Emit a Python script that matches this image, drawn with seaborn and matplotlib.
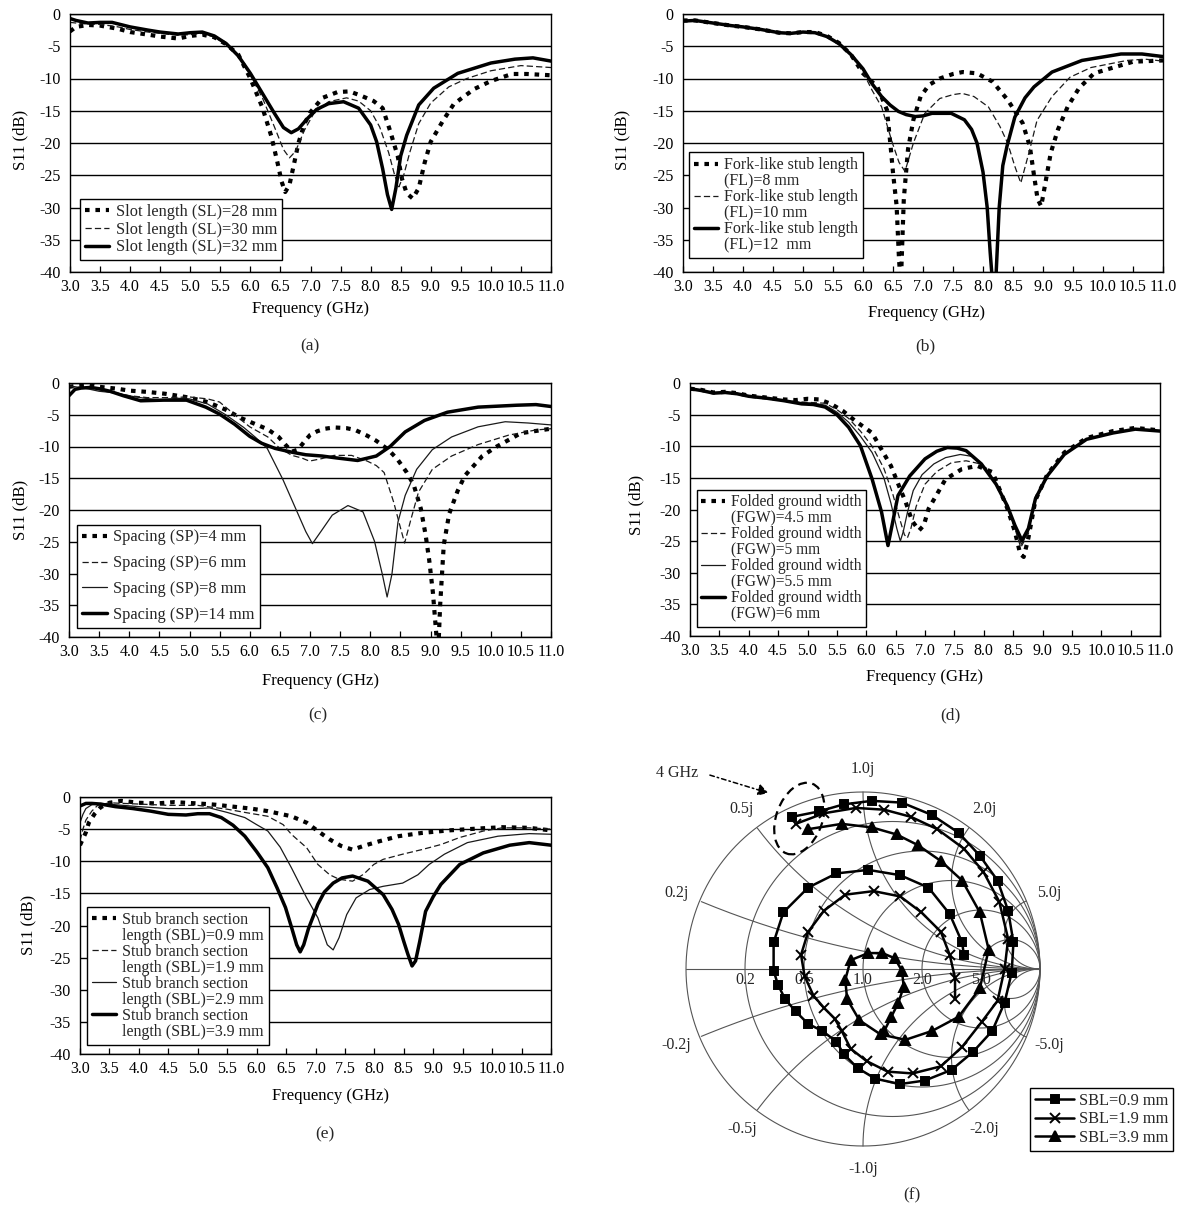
import numpy as np
import matplotlib
matplotlib.use("Agg")
import matplotlib.pyplot as plt
from matplotlib.lines import Line2D
from matplotlib.patches import Ellipse, FancyArrowPatch
import seaborn as sns

# ---------------------------------------------------------------- data
# (a) slot length
A_SL28_F = [3.0, 3.1, 3.3, 3.5, 3.8, 4.0, 4.3, 4.5, 4.8, 5.0, 5.2, 5.4, 5.6, 5.8, 6.0, 6.2, 6.35, 6.45, 6.52, 6.58, 6.65, 6.72, 6.8, 6.9, 7.0, 7.2, 7.45, 7.65, 7.85, 8.05, 8.2, 8.32, 8.45, 8.52, 8.6, 8.7, 8.8, 8.9, 9.0, 9.2, 9.38, 9.55, 9.73, 10.0, 10.35, 10.6, 11.0]
A_SL28_S = [-2.7, -2.0, -1.7, -1.8, -2.3, -2.8, -3.2, -3.5, -3.8, -3.4, -3.2, -3.6, -4.7, -6.3, -10.0, -14.5, -19.0, -23.0, -26.0, -27.6, -26.5, -23.5, -20.0, -17.0, -15.2, -13.0, -12.1, -12.0, -12.7, -13.5, -14.6, -18.0, -22.0, -25.5, -27.8, -28.6, -27.0, -23.0, -19.8, -16.6, -14.0, -12.8, -11.6, -10.4, -9.3, -9.3, -9.5]
A_SL30_F = [3.0, 3.2, 3.5, 3.8, 4.0, 4.3, 4.5, 4.8, 5.0, 5.2, 5.4, 5.6, 5.8, 6.0, 6.2, 6.4, 6.55, 6.65, 6.75, 6.9, 7.05, 7.3, 7.6, 7.8, 8.0, 8.15, 8.3, 8.4, 8.47, 8.55, 8.65, 8.8, 9.0, 9.3, 9.6, 10.0, 10.5, 11.0]
A_SL30_S = [-1.3, -1.5, -1.6, -2.0, -2.4, -2.8, -3.0, -3.3, -3.2, -3.0, -3.6, -4.7, -6.6, -9.5, -13.0, -17.5, -21.0, -22.3, -21.3, -18.0, -15.5, -13.6, -13.0, -13.5, -15.0, -17.5, -21.5, -25.0, -26.8, -25.0, -21.5, -17.0, -13.8, -11.3, -10.0, -8.8, -8.0, -8.3]
A_SL32_F = [3.0, 3.1, 3.3, 3.5, 3.7, 4.0, 4.3, 4.5, 4.8, 5.0, 5.2, 5.4, 5.6, 5.8, 6.0, 6.2, 6.4, 6.55, 6.68, 6.8, 6.95, 7.1, 7.3, 7.55, 7.8, 8.0, 8.1, 8.2, 8.28, 8.35, 8.42, 8.5, 8.6, 8.8, 9.05, 9.45, 10.0, 10.4, 10.7, 11.0]
A_SL32_S = [-0.7, -1.0, -1.4, -1.3, -1.3, -2.0, -2.5, -2.8, -3.1, -2.9, -2.8, -3.4, -4.6, -6.5, -9.2, -12.3, -15.4, -17.6, -18.4, -17.8, -16.2, -14.8, -13.9, -13.6, -14.6, -17.2, -19.8, -24.0, -28.0, -30.3, -27.0, -22.0, -18.8, -14.1, -11.5, -9.2, -7.6, -7.0, -6.8, -7.3]

# (b) fork-like stub length
B_FL8_F = [3.0, 3.2, 3.5, 3.8, 4.0, 4.3, 4.6, 4.8, 5.0, 5.2, 5.4, 5.6, 5.8, 6.0, 6.24, 6.4, 6.46, 6.5, 6.56, 6.6, 6.63, 6.68, 6.75, 6.84, 6.96, 7.1, 7.28, 7.5, 7.66, 7.9, 8.16, 8.41, 8.66, 8.78, 8.85, 8.91, 8.97, 9.03, 9.13, 9.25, 9.41, 9.6, 9.85, 10.1, 10.5, 11.0]
B_FL8_S = [-1.0, -1.0, -1.4, -1.8, -2.0, -2.4, -2.9, -3.0, -2.8, -2.8, -3.4, -4.5, -6.3, -9.2, -11.3, -14.9, -20.5, -24.6, -29.7, -38.0, -42.0, -28.7, -21.0, -16.4, -12.8, -11.0, -10.0, -9.3, -9.0, -9.2, -10.5, -13.3, -16.9, -20.5, -25.0, -28.7, -29.8, -26.7, -21.5, -17.9, -14.4, -11.5, -9.2, -8.5, -7.4, -7.2]
B_FL10_F = [3.0, 3.2, 3.5, 3.8, 4.0, 4.3, 4.6, 4.8, 5.0, 5.2, 5.4, 5.6, 5.8, 6.0, 6.15, 6.31, 6.49, 6.6, 6.7, 6.84, 7.03, 7.28, 7.5, 7.65, 7.85, 8.09, 8.28, 8.41, 8.53, 8.63, 8.78, 8.9, 9.15, 9.45, 9.8, 10.4, 10.7, 11.0]
B_FL10_S = [-1.1, -1.0, -1.4, -1.8, -2.0, -2.4, -2.9, -3.0, -2.8, -2.9, -3.5, -4.6, -6.3, -9.0, -11.8, -14.4, -20.0, -23.0, -24.4, -20.0, -15.4, -13.1, -12.5, -12.3, -12.8, -14.4, -17.4, -20.0, -23.6, -26.2, -21.0, -16.5, -12.8, -9.8, -8.3, -7.2, -7.0, -7.3]
B_FL12_F = [3.0, 3.2, 3.5, 3.8, 4.0, 4.3, 4.6, 4.8, 5.0, 5.2, 5.4, 5.6, 5.8, 6.0, 6.15, 6.31, 6.45, 6.59, 6.72, 6.87, 7.0, 7.15, 7.47, 7.69, 7.81, 7.9, 8.0, 8.07, 8.12, 8.17, 8.22, 8.27, 8.33, 8.4, 8.53, 8.7, 8.85, 9.15, 9.65, 10.3, 10.65, 11.0]
B_FL12_S = [-1.1, -1.0, -1.4, -1.8, -2.0, -2.4, -2.9, -3.0, -2.8, -2.9, -3.5, -4.6, -6.3, -8.5, -10.8, -12.8, -14.1, -15.1, -15.6, -15.9, -15.8, -15.4, -15.4, -16.4, -17.9, -20.0, -24.5, -30.0, -37.0, -43.0, -40.0, -30.0, -23.5, -20.5, -16.0, -13.0, -11.3, -9.0, -7.2, -6.2, -6.2, -6.6]

# (c) spacing
C_SP4_F = [3.0, 3.15, 3.3, 3.5, 3.8, 4.0, 4.3, 4.6, 5.0, 5.3, 5.6, 5.85, 6.1, 6.3, 6.48, 6.6, 6.7, 6.8, 6.9, 7.0, 7.12, 7.25, 7.4, 7.6, 7.75, 7.95, 8.1, 8.3, 8.45, 8.6, 8.72, 8.84, 8.92, 8.98, 9.04, 9.1, 9.13, 9.16, 9.22, 9.31, 9.45, 9.57, 9.86, 10.1, 10.5, 11.0]
C_SP4_S = [-0.6, -0.4, -0.3, -0.6, -0.9, -1.2, -1.4, -1.7, -2.3, -3.0, -4.2, -5.5, -6.5, -7.3, -8.5, -9.8, -10.8, -10.5, -9.3, -8.2, -7.6, -7.2, -7.0, -7.1, -7.4, -8.3, -9.1, -10.5, -12.0, -14.0, -16.0, -19.8, -24.0, -28.0, -33.0, -40.0, -42.0, -35.0, -25.5, -20.6, -17.0, -14.6, -11.5, -10.0, -7.9, -7.2]
C_SP6_F = [3.0, 3.3, 3.6, 4.0, 4.3, 4.6, 5.0, 5.3, 5.5, 5.8, 6.0, 6.3, 6.5, 6.7, 6.86, 6.99, 7.2, 7.4, 7.69, 7.95, 8.1, 8.23, 8.39, 8.49, 8.57, 8.68, 8.8, 9.03, 9.35, 9.79, 10.3, 10.75, 11.0]
C_SP6_S = [-0.5, -0.8, -1.2, -2.0, -2.3, -2.3, -2.2, -2.5, -3.0, -5.4, -6.9, -8.5, -10.3, -11.4, -11.8, -12.3, -11.9, -11.4, -11.4, -12.3, -13.0, -14.1, -18.8, -22.4, -25.2, -21.3, -17.2, -13.6, -11.5, -9.7, -8.2, -7.4, -7.2]
C_SP8_F = [3.0, 3.2, 3.5, 3.8, 4.1, 4.5, 4.8, 5.0, 5.3, 5.6, 5.9, 6.1, 6.29, 6.55, 6.74, 6.93, 7.04, 7.18, 7.37, 7.63, 7.88, 8.07, 8.2, 8.28, 8.36, 8.46, 8.58, 8.77, 9.03, 9.35, 9.79, 10.24, 10.62, 11.0]
C_SP8_S = [-0.5, -0.7, -1.3, -1.6, -2.2, -2.7, -2.4, -2.5, -3.3, -5.0, -7.0, -8.6, -10.3, -15.2, -19.3, -23.4, -25.3, -23.4, -20.8, -19.3, -20.3, -24.9, -30.1, -33.7, -30.1, -21.9, -17.7, -13.6, -10.5, -8.5, -6.9, -6.1, -6.3, -6.6]
C_SP14_F = [3.0, 3.1, 3.2, 3.36, 3.5, 3.68, 3.9, 4.19, 4.57, 4.95, 5.27, 5.5, 5.75, 6.0, 6.2, 6.42, 6.7, 6.93, 7.2, 7.44, 7.79, 8.1, 8.33, 8.58, 8.9, 9.28, 9.79, 10.43, 10.75, 11.0]
C_SP14_S = [-2.0, -1.0, -0.8, -0.7, -0.9, -1.3, -2.0, -2.8, -2.7, -2.7, -3.8, -4.9, -6.5, -8.4, -9.5, -10.3, -10.9, -11.3, -11.5, -11.8, -12.2, -11.5, -10.0, -7.7, -5.9, -4.6, -3.8, -3.5, -3.4, -3.7]

# (d) folded ground width
D_FGW45_F = [3.0, 3.2, 3.4, 3.6, 3.8, 4.0, 4.3, 4.6, 4.8, 5.0, 5.2, 5.4, 5.6, 5.8, 6.1, 6.29, 6.42, 6.58, 6.67, 6.78, 6.9, 6.98, 7.06, 7.19, 7.35, 7.63, 7.89, 8.15, 8.4, 8.53, 8.62, 8.68, 8.76, 8.88, 9.08, 9.37, 9.75, 10.2, 10.58, 11.0]
D_FGW45_S = [-0.9, -1.1, -1.5, -1.4, -1.6, -2.0, -2.3, -2.6, -2.7, -2.5, -2.6, -3.3, -4.4, -5.9, -7.9, -11.0, -13.1, -16.8, -18.8, -21.8, -23.3, -22.5, -19.9, -17.8, -15.2, -13.6, -13.1, -14.1, -19.8, -23.5, -27.0, -27.5, -24.5, -18.5, -14.5, -11.0, -8.7, -7.6, -7.1, -7.5]
D_FGW5_F = [3.0, 3.2, 3.4, 3.6, 3.8, 4.0, 4.3, 4.6, 4.9, 5.1, 5.3, 5.5, 5.7, 5.9, 6.1, 6.3, 6.45, 6.57, 6.65, 6.7, 6.76, 6.85, 7.0, 7.2, 7.45, 7.7, 7.9, 8.05, 8.21, 8.4, 8.53, 8.63, 8.76, 8.88, 9.08, 9.37, 9.75, 10.2, 10.58, 11.0]
D_FGW5_S = [-0.9, -1.2, -1.6, -1.5, -1.7, -2.1, -2.4, -2.8, -3.0, -3.1, -3.2, -4.2, -5.6, -7.6, -10.0, -13.5, -17.5, -21.5, -24.0, -24.5, -23.0, -19.5, -16.0, -14.0, -12.6, -12.3, -12.7, -13.5, -16.0, -19.8, -23.0, -26.0, -23.8, -18.5, -14.8, -11.3, -8.9, -7.8, -7.3, -7.6]
D_FGW55_F = [3.0, 3.2, 3.4, 3.6, 3.8, 4.0, 4.3, 4.6, 4.9, 5.1, 5.3, 5.5, 5.7, 5.9, 6.1, 6.3, 6.42, 6.52, 6.58, 6.63, 6.7, 6.8, 6.95, 7.15, 7.35, 7.6, 7.8, 7.96, 8.21, 8.4, 8.53, 8.64, 8.76, 8.88, 9.08, 9.37, 9.75, 10.2, 10.58, 11.0]
D_FGW55_S = [-0.9, -1.2, -1.6, -1.5, -1.7, -2.1, -2.4, -2.8, -3.1, -3.2, -3.5, -4.6, -6.2, -8.4, -11.0, -15.0, -19.0, -23.0, -25.0, -23.5, -20.5, -17.0, -14.5, -12.8, -11.8, -11.3, -11.6, -12.8, -16.0, -19.5, -22.8, -25.5, -23.5, -18.3, -14.7, -11.3, -8.9, -7.9, -7.3, -7.6]
D_FGW6_F = [3.0, 3.2, 3.4, 3.6, 3.8, 4.0, 4.3, 4.6, 4.9, 5.1, 5.3, 5.5, 5.7, 5.9, 6.1, 6.26, 6.37, 6.45, 6.54, 6.74, 7.0, 7.2, 7.38, 7.55, 7.7, 7.96, 8.21, 8.4, 8.53, 8.65, 8.76, 8.88, 9.08, 9.37, 9.75, 10.2, 10.58, 11.0]
D_FGW6_S = [-0.9, -1.2, -1.6, -1.5, -1.7, -2.1, -2.4, -2.8, -3.3, -3.4, -3.8, -5.0, -7.0, -9.9, -15.2, -20.4, -25.7, -22.0, -17.8, -14.7, -12.0, -10.8, -10.2, -10.3, -10.7, -12.8, -16.0, -19.4, -22.5, -24.9, -23.0, -18.3, -14.7, -11.3, -8.9, -7.9, -7.3, -7.6]

# (e) stub branch section length
E_SBL09_F = [3.0, 3.05, 3.1, 3.15, 3.25, 3.35, 3.5, 3.7, 4.0, 4.3, 4.6, 5.0, 5.3, 5.6, 5.9, 6.19, 6.59, 6.85, 7.04, 7.24, 7.43, 7.63, 7.82, 8.08, 8.41, 8.8, 9.26, 9.78, 10.17, 10.63, 11.0]
E_SBL09_S = [-7.5, -6.5, -5.5, -4.0, -2.6, -1.6, -0.9, -0.6, -0.9, -1.0, -0.8, -1.0, -1.2, -1.5, -1.8, -2.2, -3.0, -4.0, -5.3, -6.6, -7.6, -8.2, -7.6, -6.9, -6.1, -5.6, -5.2, -4.9, -4.7, -4.8, -5.2]
E_SBL19_F = [3.0, 3.05, 3.1, 3.2, 3.3, 3.5, 4.0, 4.5, 5.0, 5.5, 5.8, 6.19, 6.45, 6.59, 6.85, 7.04, 7.24, 7.4, 7.63, 7.82, 7.99, 8.15, 8.48, 8.8, 9.13, 9.45, 9.85, 10.17, 10.63, 11.0]
E_SBL19_S = [-6.8, -5.0, -3.6, -2.2, -1.3, -0.9, -1.1, -1.3, -1.3, -1.9, -2.4, -3.0, -4.3, -5.8, -7.9, -10.5, -12.1, -12.8, -13.1, -12.0, -10.5, -9.7, -8.9, -8.2, -7.4, -6.3, -5.3, -4.8, -4.8, -5.0]
E_SBL29_F = [3.0, 3.05, 3.1, 3.2, 3.35, 3.6, 4.0, 4.5, 5.0, 5.2, 5.5, 5.8, 6.0, 6.19, 6.4, 6.59, 6.85, 7.04, 7.2, 7.3, 7.4, 7.53, 7.69, 7.92, 8.15, 8.48, 8.74, 8.93, 9.19, 9.58, 10.1, 10.63, 11.0]
E_SBL29_S = [-4.0, -2.7, -1.8, -1.2, -1.0, -1.2, -1.5, -1.8, -1.8, -1.7, -2.4, -3.2, -4.3, -5.3, -7.8, -11.0, -15.7, -18.8, -23.0, -23.8, -21.9, -18.3, -15.7, -14.4, -13.9, -13.4, -12.1, -10.5, -8.9, -7.1, -6.1, -5.7, -5.8]
E_SBL39_F = [3.0, 3.1, 3.2, 3.35, 3.6, 3.9, 4.2, 4.5, 4.8, 5.0, 5.2, 5.4, 5.6, 5.8, 6.0, 6.19, 6.35, 6.49, 6.6, 6.68, 6.74, 6.8, 6.88, 7.04, 7.15, 7.3, 7.45, 7.63, 7.89, 8.15, 8.3, 8.41, 8.5, 8.57, 8.64, 8.7, 8.77, 8.87, 9.0, 9.13, 9.45, 9.85, 10.3, 10.63, 11.0]
E_SBL39_S = [-1.4, -1.0, -1.0, -1.1, -1.5, -1.8, -2.2, -2.7, -2.8, -2.6, -2.6, -3.2, -4.4, -6.1, -8.5, -11.0, -14.2, -17.2, -20.5, -23.0, -24.1, -23.0, -20.5, -16.7, -14.8, -13.4, -12.6, -12.3, -13.1, -15.2, -17.5, -19.8, -22.5, -24.5, -26.3, -25.5, -22.5, -17.8, -15.5, -13.6, -10.5, -8.7, -7.5, -7.1, -7.5]

# (f) reflection coefficient (real, imaginary) from 4 GHz onward
F_SBL09_RE = [-0.40, -0.25, -0.11, 0.05, 0.22, 0.39, 0.54, 0.66, 0.76, 0.82, 0.85, 0.84, 0.80, 0.73, 0.62, 0.50, 0.35, 0.21, 0.07, -0.03, -0.11, -0.15, -0.23, -0.31, -0.38, -0.44, -0.48, -0.505, -0.505, -0.45, -0.31, -0.15, 0.03, 0.21, 0.37, 0.49, 0.56, 0.57]
F_SBL09_IM = [0.86, 0.89, 0.93, 0.95, 0.94, 0.87, 0.77, 0.64, 0.50, 0.33, 0.15, -0.02, -0.19, -0.35, -0.47, -0.57, -0.63, -0.65, -0.62, -0.56, -0.48, -0.41, -0.35, -0.31, -0.24, -0.17, -0.09, -0.01, 0.15, 0.32, 0.46, 0.54, 0.56, 0.53, 0.46, 0.31, 0.15, 0.08]
F_SBL19_RE = [-0.38, -0.22, -0.04, 0.12, 0.27, 0.42, 0.57, 0.68, 0.77, 0.82, 0.80, 0.76, 0.67, 0.56, 0.44, 0.28, 0.14, 0.02, -0.07, -0.12, -0.16, -0.22, -0.28, -0.33, -0.35, -0.31, -0.22, -0.10, 0.06, 0.21, 0.33, 0.44, 0.49, 0.52, 0.52]
F_SBL19_IM = [0.82, 0.88, 0.91, 0.90, 0.86, 0.79, 0.68, 0.55, 0.38, 0.17, 0.0, -0.18, -0.30, -0.44, -0.55, -0.59, -0.58, -0.52, -0.45, -0.35, -0.28, -0.22, -0.15, -0.04, 0.08, 0.21, 0.33, 0.42, 0.44, 0.41, 0.32, 0.21, 0.08, -0.05, -0.17]
F_SBL39_RE = [-0.31, -0.12, 0.05, 0.19, 0.31, 0.44, 0.56, 0.66, 0.71, 0.66, 0.54, 0.39, 0.24, 0.10, -0.02, -0.09, -0.10, -0.07, 0.03, 0.11, 0.18, 0.22, 0.23, 0.20, 0.16, 0.12]
F_SBL39_IM = [0.79, 0.82, 0.80, 0.76, 0.70, 0.61, 0.50, 0.32, 0.11, -0.11, -0.27, -0.35, -0.40, -0.37, -0.29, -0.17, -0.06, 0.05, 0.09, 0.09, 0.06, -0.01, -0.10, -0.19, -0.27, -0.35]

X_TICKS = [3.0 + 0.5 * i for i in range(17)]
Y_TICKS = [0, -5, -10, -15, -20, -25, -30, -35, -40]
SMITH_R = [0.2, 0.5, 1.0, 2.0, 5.0]
SMITH_X = [0.2, 0.5, 1.0, 2.0, 5.0]

# ---------------------------------------------------------------- style
sns.set_theme(style="white")
plt.rcParams["font.family"] = ["Liberation Serif", "DejaVu Serif"]
plt.rcParams["axes.edgecolor"] = "black"
plt.rcParams["axes.linewidth"] = 1.0

W, H = 1193, 1208
fig = plt.figure(figsize=(W / 100, H / 100), dpi=100)

FS_TICK = 11.5
FS_LABEL = 12
FS_LEG = 11.8

STYLES = {
    "dot": dict(color="black", linewidth=3.0, linestyle=(0, (1.1, 1.4))),
    "dash": dict(color="#1a1a1a", linewidth=0.9, linestyle=(0, (5, 2.5))),
    "thin": dict(color="#1a1a1a", linewidth=0.9, linestyle="-"),
    "thick": dict(color="black", linewidth=2.5, linestyle="-"),
}


def add_axes_px(l, t, r, b):
    return fig.add_axes([l / W, 1 - b / H, (r - l) / W, (b - t) / H])


def s11_panel(box, series, legend_at, letter, xlabel_px, ylabel_px, letter_px,
              labelspacing=0.1, legend_fs=FS_LEG):
    l, t, r, b = box
    ax = add_axes_px(l, t, r, b)
    handles, labels = [], []
    for freq, s11, style, label in series:
        sns.lineplot(x=freq, y=s11, ax=ax, estimator=None, sort=False,
                     legend=False, **STYLES[style])
        parts = label.split("\n")
        handles.append(Line2D([], [], **STYLES[style]))
        labels.append(parts[0])
        for extra in parts[1:]:
            handles.append(Line2D([], [], color="none"))
            labels.append(extra)
    ax.set_xlim(3.0, 11.0)
    ax.set_ylim(-40, 0)
    ax.set_xticks(X_TICKS)
    ax.set_xticklabels([f"{v:.1f}" for v in X_TICKS], fontsize=FS_TICK)
    ax.set_yticks(Y_TICKS)
    ax.set_yticklabels([str(v) for v in Y_TICKS], fontsize=FS_TICK)
    ax.tick_params(axis="x", direction="in", length=4, width=0.9, pad=5,
                   colors="black", bottom=True)
    ax.tick_params(axis="y", length=0, pad=7, colors="black")
    ax.yaxis.grid(True, color="black", linewidth=1.0)
    ax.xaxis.grid(False)
    for sp in ax.spines.values():
        sp.set_color("black")
        sp.set_linewidth(1.0)
    ax.set_xlabel("Frequency (GHz)", fontsize=FS_LABEL, color="black")
    ax.set_ylabel("S11 (dB)", fontsize=FS_LABEL, color="black")
    ax.xaxis.set_label_coords((xlabel_px[0] - l) / (r - l),
                              (b - xlabel_px[1]) / (b - t))
    ax.yaxis.set_label_coords((ylabel_px[0] - l) / (r - l),
                              (b - ylabel_px[1]) / (b - t))
    ax.xaxis.label.set_va("center")
    ax.yaxis.label.set_va("center")
    leg = ax.legend(handles, labels, loc="lower left", bbox_to_anchor=legend_at,
                    borderaxespad=0, frameon=True, fancybox=False,
                    edgecolor="black", framealpha=1, fontsize=legend_fs,
                    handlelength=1.5, handletextpad=0.4, borderpad=0.3,
                    labelspacing=labelspacing)
    leg.get_frame().set_linewidth(1.0)
    fig.text(letter_px[0] / W, 1 - letter_px[1] / H, letter, ha="center",
             va="center", fontsize=12.5)
    return ax


s11_panel((70, 14, 551, 272),
          [(A_SL28_F, A_SL28_S, "dot", "Slot length (SL)=28 mm"),
           (A_SL30_F, A_SL30_S, "dash", "Slot length (SL)=30 mm"),
           (A_SL32_F, A_SL32_S, "thick", "Slot length (SL)=32 mm")],
          (0.02, 0.045), "(a)", (310, 309), (20, 140), (310, 346))

s11_panel((683, 14, 1163, 272),
          [(B_FL8_F, B_FL8_S, "dot", "Fork-like stub length\n(FL)=8 mm"),
           (B_FL10_F, B_FL10_S, "dash", "Fork-like stub length\n(FL)=10 mm"),
           (B_FL12_F, B_FL12_S, "thick", "Fork-like stub length\n(FL)=12  mm")],
          (0.013, 0.054), "(b)", (926, 313), (622, 140), (925, 346),
          labelspacing=0.0, legend_fs=11.5)

s11_panel((69, 383, 551, 637),
          [(C_SP4_F, C_SP4_S, "dot", "Spacing (SP)=4 mm"),
           (C_SP6_F, C_SP6_S, "dash", "Spacing (SP)=6 mm"),
           (C_SP8_F, C_SP8_S, "thin", "Spacing (SP)=8 mm"),
           (C_SP14_F, C_SP14_S, "thick", "Spacing (SP)=14 mm")],
          (0.0175, 0.036), "(c)", (320, 681), (20, 510), (318, 715),
          labelspacing=0.6)

s11_panel((690, 383, 1160, 636),
          [(D_FGW45_F, D_FGW45_S, "dot", "Folded ground width\n(FGW)=4.5 mm"),
           (D_FGW5_F, D_FGW5_S, "dash", "Folded ground width\n(FGW)=5 mm"),
           (D_FGW55_F, D_FGW55_S, "thin", "Folded ground width\n(FGW)=5.5 mm"),
           (D_FGW6_F, D_FGW6_S, "thick", "Folded ground width\n(FGW)=6 mm")],
          (0.0144, 0.035), "(d)", (925, 677), (636, 505), (950, 715),
          labelspacing=0.0, legend_fs=11.2)

s11_panel((80, 797, 551, 1054),
          [(E_SBL09_F, E_SBL09_S, "dot", "Stub branch section\nlength (SBL)=0.9 mm"),
           (E_SBL19_F, E_SBL19_S, "dash", "Stub branch section\nlength (SBL)=1.9 mm"),
           (E_SBL29_F, E_SBL29_S, "thin", "Stub branch section\nlength (SBL)=2.9 mm"),
           (E_SBL39_F, E_SBL39_S, "thick", "Stub branch section\nlength (SBL)=3.9 mm")],
          (0.015, 0.036), "(e)", (330, 1096), (28, 925), (325, 1134),
          labelspacing=0.0, legend_fs=11.5)

# ---------------------------------------------------------------- Smith chart
CX, CY, RAD = 863, 969, 177
FL, FT, FR, FB = 640, 755, 1192, 1206
axf = add_axes_px(FL, FT, FR, FB)
axf.set_xlim((FL - CX) / RAD, (FR - CX) / RAD)
axf.set_ylim((CY - FB) / RAD, (CY - FT) / RAD)
axf.axis("off")

GRID = dict(color="#555555", linewidth=0.8, zorder=1)
th = np.linspace(0, 2 * np.pi, 721)
axf.plot(np.cos(th), np.sin(th), **GRID)
axf.plot([-1, 1], [0, 0], **GRID)
for r in SMITH_R:
    c, rr = r / (1 + r), 1 / (1 + r)
    axf.plot(c + rr * np.cos(th), rr * np.sin(th), **GRID)
for x in SMITH_X:
    for sgn in (1, -1):
        cy, rr = sgn / x, 1 / x
        px, py = 1 + rr * np.cos(th), cy + rr * np.sin(th)
        inside = px ** 2 + py ** 2 <= 1.0005
        px = np.where(inside, px, np.nan)
        py = np.where(inside, py, np.nan)
        axf.plot(px, py, **GRID)
        ang = np.pi - 2 * np.arctan(x)
        axf.text(1.14 * np.cos(ang), sgn * 1.14 * np.sin(ang) - 0.01 * sgn,
                 f"{'-' if sgn < 0 else ''}{x:.1f}j", ha="center", va="center",
                 fontsize=FS_TICK)
for r in SMITH_R:
    axf.text((r - 1) / (r + 1), -0.015, f"{r:.1f}",
             ha="center", va="top", fontsize=FS_TICK)

for re_, im_, mk, ms, lab in [
        (F_SBL09_RE, F_SBL09_IM, "s", 5.5, "SBL=0.9 mm"),
        (F_SBL19_RE, F_SBL19_IM, "x", 7.5, "SBL=1.9 mm"),
        (F_SBL39_RE, F_SBL39_IM, "^", 6.5, "SBL=3.9 mm")]:
    sns.lineplot(x=re_, y=im_, ax=axf, sort=False, estimator=None, color="black",
                 linewidth=1.8, marker=mk, markersize=ms, markeredgewidth=1.4,
                 markeredgecolor="black", markerfacecolor="black", label=lab,
                 zorder=3)

axf.add_patch(Ellipse((-0.36, 0.85), 0.26, 0.42, angle=-20, fill=False,
                      linestyle=(0, (4, 2.5)), linewidth=1.6, edgecolor="black",
                      zorder=4))
axf.text(-1.05, 1.11, "4 GHz", ha="center", va="center", fontsize=FS_TICK)
axf.add_patch(FancyArrowPatch((-0.88, 1.10), (-0.52, 0.99),
                              arrowstyle="-|>,head_length=6,head_width=3.5",
                              linestyle=(0, (3, 2, 1, 2)), linewidth=1.1,
                              color="black", zorder=4))
legf = axf.legend(loc="upper left",
                  bbox_to_anchor=(1030 / W, 1 - 1088 / H),
                  bbox_transform=fig.transFigure, borderaxespad=0,
                  frameon=True, fancybox=False, edgecolor="black",
                  framealpha=1, fontsize=FS_LEG, handlelength=2.4,
                  handletextpad=0.3, borderpad=0.3, labelspacing=0.15)
legf.get_frame().set_linewidth(1.0)
fig.text(912 / W, 1 - 1195 / H, "(f)", ha="center", va="center", fontsize=12.5)

fig.savefig("out.png", dpi=100, facecolor="white")
